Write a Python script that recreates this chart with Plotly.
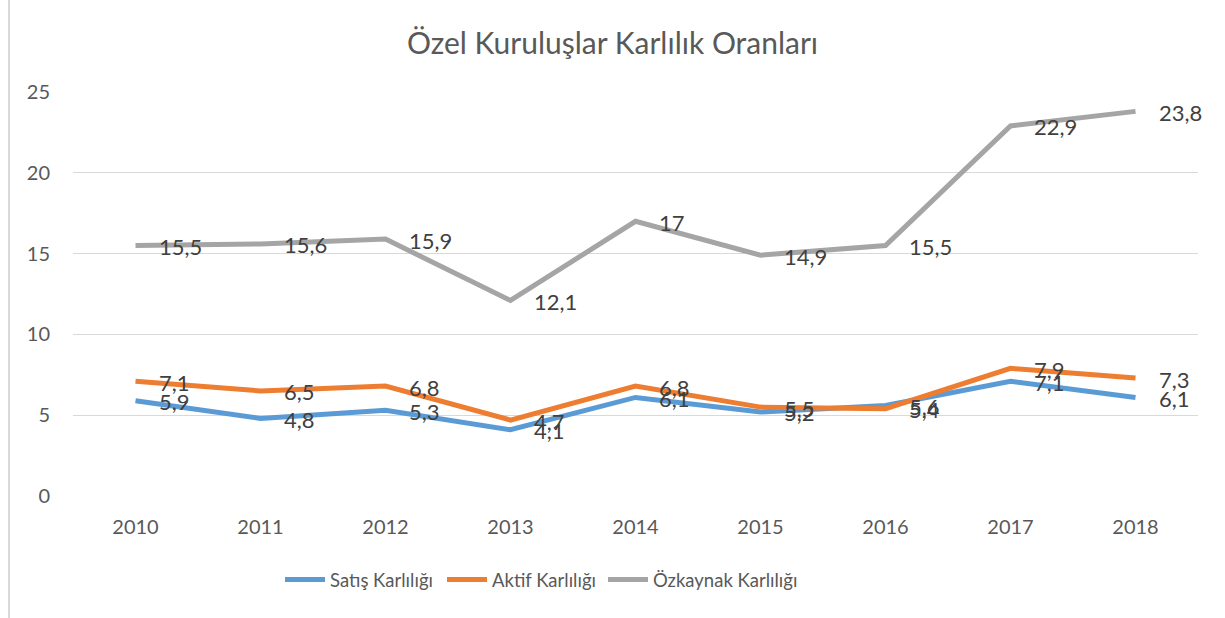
import plotly.graph_objects as go

years = ["2010", "2011", "2012", "2013", "2014", "2015", "2016", "2017", "2018"]
satis = [5.9, 4.8, 5.3, 4.1, 6.1, 5.2, 5.6, 7.1, 6.1]
aktif = [7.1, 6.5, 6.8, 4.7, 6.8, 5.5, 5.4, 7.9, 7.3]
ozkaynak = [15.5, 15.6, 15.9, 12.1, 17, 14.9, 15.5, 22.9, 23.8]

series = [
    ("Satış Karlılığı", satis, "#5B9BD5"),
    ("Aktif Karlılığı", aktif, "#ED7D31"),
    ("Özkaynak Karlılığı", ozkaynak, "#A5A5A5"),
]

FONT = "Lato"
W, H = 1225, 618
ML, MR, MT, MB = 73, 27, 92, 122
PW, PH = W - ML - MR, H - MT - MB
legend_left_px = [280, 442, 603]
legend_names = ["legend", "legend2", "legend3"]


def fmt(v):
    return ("%g" % v).replace(".", ",")


fig = go.Figure()
annotations = []
for (name, vals, color), lg in zip(series, legend_names):
    fig.add_trace(go.Scatter(
        x=years, y=vals, mode="lines", name=name, legend=lg,
        line=dict(color=color, width=5),
    ))
    for i, v in enumerate(vals):
        annotations.append(dict(
            x=i, y=v, text=fmt(v), showarrow=False,
            xanchor="left", yanchor="middle", xshift=21, yshift=-1,
            font=dict(family=FONT, size=22, color="#404040"),
        ))

legend_common = dict(orientation="h", xanchor="left", y=1 - 580 / H,
                     yref="container", yanchor="middle",
                     font=dict(family=FONT, size=18.5, color="#595959"),
                     itemwidth=40, bgcolor="rgba(0,0,0,0)")

fig.update_layout(
    width=W, height=H,
    margin=dict(l=ML, r=MR, t=MT, b=MB, autoexpand=False),
    paper_bgcolor="white", plot_bgcolor="white",
    title=dict(text="Özel Kuruluşlar Karlılık Oranları", x=0.5, xanchor="center",
               y=1 - 43 / H, yanchor="middle", yref="container",
               font=dict(family=FONT, size=30, color="#595959")),
    font=dict(family=FONT, size=20, color="#595959"),
    xaxis=dict(type="category", range=[-0.5, 8.5], showgrid=False, zeroline=False,
               showline=False, ticks="", tickfont=dict(size=20, color="#595959"),
               ticklabelstandoff=17),
    yaxis=dict(range=[0, 25], tickvals=[0, 5, 10, 15, 20, 25], showgrid=True,
               gridcolor="#D9D9D9", gridwidth=1.3, zeroline=False, showline=False,
               ticks="", tickfont=dict(size=20, color="#595959"), ticklabelstandoff=22),
    legend=dict(x=(legend_left_px[0] - ML) / PW, **legend_common),
    legend2=dict(x=(legend_left_px[1] - ML) / PW, **legend_common),
    legend3=dict(x=(legend_left_px[2] - ML) / PW, **legend_common),
    annotations=annotations,
    showlegend=True,
)

# chart frame (top and left edges visible)
xl = (9 - ML) / PW
ytop = (H - MT - 1) / PH
fig.add_shape(type="line", xref="paper", yref="paper",
              x0=xl, x1=(W - ML) / PW, y0=ytop, y1=ytop,
              line=dict(color="#D9D9D9", width=2))
fig.add_shape(type="line", xref="paper", yref="paper",
              x0=xl, x1=xl, y0=-MB / PH, y1=ytop,
              line=dict(color="#D9D9D9", width=2))

fig.write_html("out.html", config={"displayModeBar": False},
               post_script="document.body.style.margin='0';")
